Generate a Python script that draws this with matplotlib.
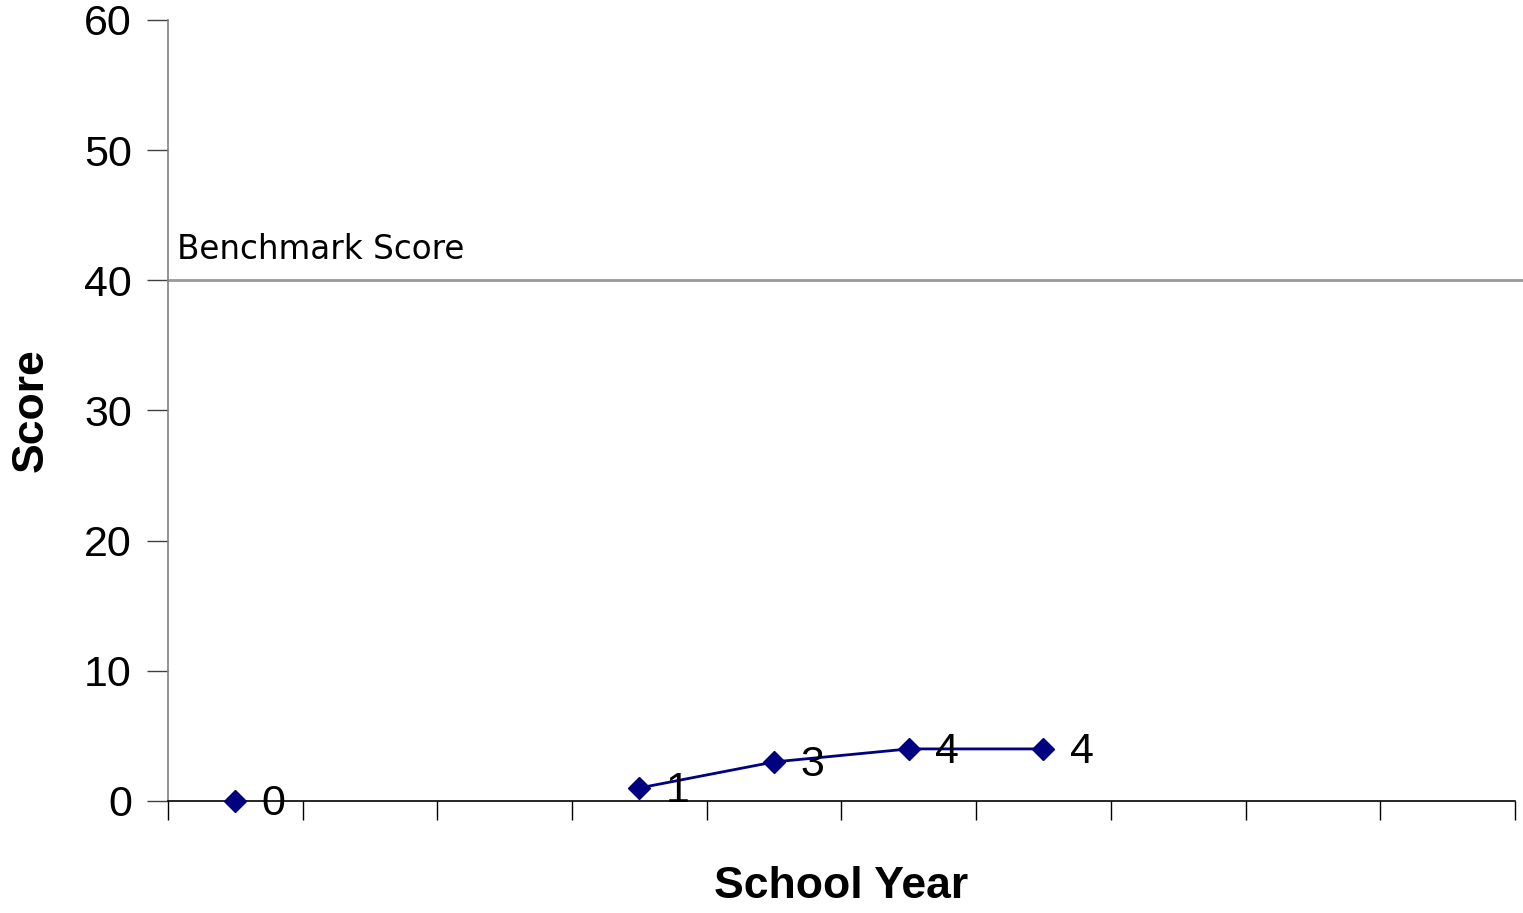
import numpy as np
import matplotlib
matplotlib.use("Agg")
import matplotlib.pyplot as plt

plt.rcParams['font.family'] = ['Liberation Sans', 'DejaVu Sans']

# data
years = list(range(10))
scores = [0, np.nan, np.nan, 1, 3, 4, 4, np.nan, np.nan, np.nan]
benchmark = 40
yticks = [0, 10, 20, 30, 40, 50, 60]

fig = plt.figure(figsize=(15.23, 9.13), dpi=100)
ax = fig.add_axes([0.1103, 0.1227, 0.8844, 0.8554])

ax.plot(years, scores, color='#000080', lw=2, marker='D', markersize=11,
        markeredgecolor='#000080', clip_on=False, zorder=3)
for x, y in zip(years, scores):
    if not np.isnan(y):
        ax.annotate(f"{y:g}", (x, y), xytext=(19, -2), textcoords='offset points',
                    fontsize=31, va='center', ha='left', color='black')

# benchmark line reaches past the right end of the axis
ax.axhline(benchmark, xmin=0, xmax=1.006, color='#999999', lw=2, clip_on=False, zorder=2)
ax.text(-0.43, benchmark + 1.6, "Benchmark Score", fontsize=23.5, ha='left', va='baseline',
        family='DejaVu Sans')

ax.set_xlim(-0.5, 9.5)
ax.set_ylim(0, 60)
ax.set_yticks(yticks)
ax.set_xticks(np.arange(-0.5, 10, 1))
ax.set_xticklabels([])
ax.tick_params(axis='y', labelsize=31, length=15, width=1, pad=11, direction='out',
               color='#404040')
ax.tick_params(axis='x', length=14, width=1, direction='out')

for s in ['top', 'right']:
    ax.spines[s].set_visible(False)
for s in ['left', 'bottom']:
    ax.spines[s].set_linewidth(1.2)
ax.spines['left'].set_color('#808080')

ax.set_ylabel("Score", fontsize=32, fontweight='bold')
ax.yaxis.label.set_va('baseline')
ax.yaxis.set_label_coords(-0.093, 0.5)
ax.set_xlabel("School Year", fontsize=32, fontweight='bold')
ax.xaxis.label.set_va('baseline')
ax.xaxis.set_label_coords(0.5, -0.124)

fig.savefig("out.png", dpi=100)
